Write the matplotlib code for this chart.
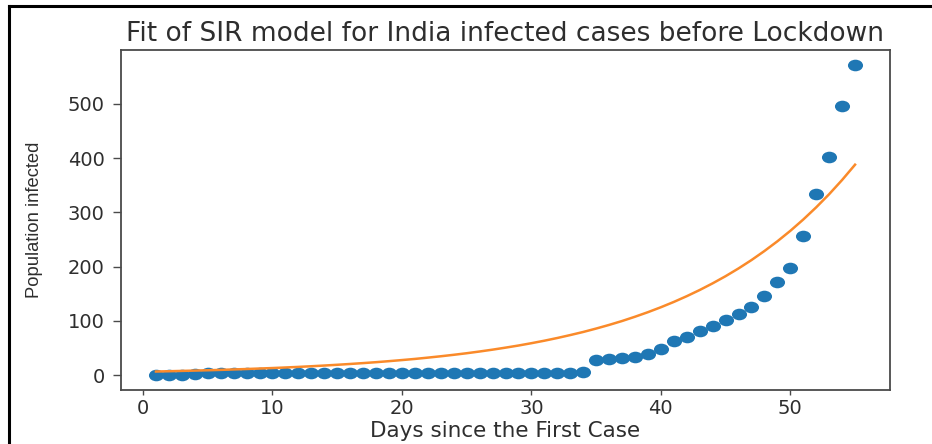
import matplotlib
matplotlib.use("Agg")
import matplotlib.pyplot as plt
from matplotlib.path import Path
from matplotlib.transforms import Affine2D
from matplotlib.lines import Line2D

# Days since the first reported case
days = list(range(1, 56))

# Cumulative confirmed infections in India up to the lockdown
infected = [1, 1, 1, 2, 3, 3, 3, 3, 3, 3,
            3, 3, 3, 3, 3, 3, 3, 3, 3, 3,
            3, 3, 3, 3, 3, 3, 3, 3, 3, 3,
            3, 3, 3, 6, 28, 30, 31, 34, 39, 48,
            63, 71, 81, 91, 102, 112, 126, 146, 171, 198,
            256, 334, 403, 497, 571]

# SIR model fit evaluated on the same days
sir_fit = [6.6, 7.1, 7.7, 8.3, 8.9, 9.6, 10.4, 11.2, 12.1, 13.0,
           14.0, 15.1, 16.3, 17.6, 19.0, 20.5, 22.1, 23.8, 25.7, 27.7,
           29.8, 32.2, 34.7, 37.4, 40.3, 43.5, 46.9, 50.6, 54.5, 58.8,
           63.4, 68.4, 73.8, 79.5, 85.8, 92.5, 99.7, 107.6, 116.0, 125.1,
           134.9, 145.5, 156.9, 169.2, 182.4, 196.7, 212.1, 228.8, 246.7, 266.0,
           286.9, 309.4, 333.6, 359.8, 388.0]

title = "Fit of SIR model for India infected cases before Lockdown"
xlabel = "Days since the First Case"
ylabel = "Population infected"
xticks = [0, 10, 20, 30, 40, 50]
yticks = [0, 100, 200, 300, 400, 500]

text_color = "#2e2e2e"
plt.rcParams["font.family"] = ["DejaVu Sans"]

W, H = 932, 444
fig = plt.figure(figsize=(W / 100, H / 100), dpi=100)
fig.patch.set_facecolor("white")
ax = fig.add_axes([121 / W, 1 - 390 / H, 769 / W, 340 / H])

# slightly wide dots
dot = Path.unit_circle().transformed(Affine2D().scale(1.3, 1.0))
ax.scatter(days, infected, s=118, marker=dot, color="#1f77b4",
           linewidths=0, zorder=2)
ax.plot(days, sir_fit, color="#fa8a2a", lw=1.8, zorder=3)

ax.set_xticks(xticks)
ax.set_yticks(yticks)
ax.tick_params(axis="x", labelsize=14, length=3.6, width=1.0,
               colors="#4a4a4a", labelcolor=text_color, pad=3.2)
ax.tick_params(axis="y", labelsize=14, length=5.8, width=1.0,
               colors="#4a4a4a", labelcolor=text_color, pad=6.0)
for sp in ax.spines.values():
    sp.set_linewidth(1.3)
    sp.set_color("#4a4a4a")

ax.set_title(title, fontsize=19, color=text_color, pad=6.7)
ax.set_xlabel(xlabel, fontsize=15.5, color=text_color)
ax.xaxis.set_label_coords(0.5, -0.092)
ax.set_ylabel(ylabel, fontsize=13.2, color=text_color,
              family=["Liberation Sans", "DejaVu Sans"])
ax.yaxis.set_label_coords(-0.101, 0.5)

# screenshot frame on the top and left edges
fig.add_artist(Line2D([8.5 / W, 8.5 / W], [0, 1 - 6 / H], color="black",
                      lw=2.2, transform=fig.transFigure))
fig.add_artist(Line2D([8.5 / W, 1], [1 - 6 / H, 1 - 6 / H], color="black",
                      lw=2.2, transform=fig.transFigure))

fig.savefig("out.png", dpi=100, facecolor="white")
